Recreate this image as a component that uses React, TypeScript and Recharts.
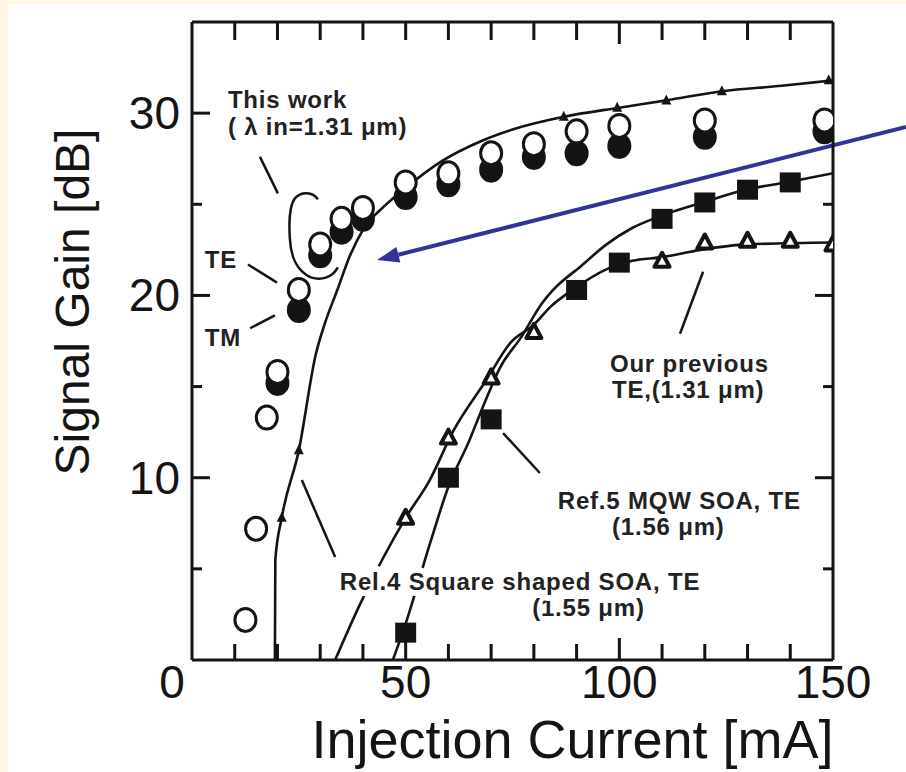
import React from 'react'
import { ComposedChart, Line, Scatter, XAxis, YAxis, ReferenceLine, ReferenceDot } from 'recharts'

// This work (λin = 1.31 µm): TE open circles, TM filled circles
const teCurrent = [12.5, 15, 17.5, 20, 25, 30, 35, 40, 50, 60, 70, 80, 90, 100, 120, 148]
const teGain = [2.2, 7.2, 13.3, 15.8, 20.3, 22.8, 24.2, 24.8, 26.2, 26.7, 27.8, 28.3, 29.0, 29.3, 29.6, 29.6]
const tmCurrent = [20, 25, 30, 35, 40, 50, 60, 70, 80, 90, 100, 120, 148]
const tmGain = [15.2, 19.2, 22.2, 23.5, 24.2, 25.4, 26.1, 26.9, 27.6, 27.8, 28.2, 28.7, 29.0]

// Rel.4 square shaped SOA: curve and small markers on it
const rel4Current = [19.4, 19.5, 21, 25, 29, 31, 34, 37, 40, 45, 50, 58, 68, 75, 87, 100, 111, 124, 138, 150]
const rel4Gain = [0, 5.5, 7.8, 11.5, 16.8, 18.4, 20.3, 22.2, 23.6, 24.9, 25.9, 27.3, 28.5, 29.1, 29.8, 30.3, 30.7, 31.2, 31.5, 31.8]
const rel4MarkCurrent = [21, 25, 87, 99.5, 111, 124, 149]
const rel4MarkGain = [7.8, 11.5, 29.8, 30.3, 30.7, 31.2, 31.8]

// Our previous TE (1.31 µm): triangles + curve
const prevCurrent = [50, 60, 70, 80, 110, 120, 130, 140, 150]
const prevGain = [7.8, 12.2, 15.5, 18.0, 21.9, 22.9, 23.0, 23.0, 22.8]
const prevFitCurrent = [33.5, 39, 44.5, 50, 55.7, 61, 69, 74.5, 80, 84, 89, 97.6, 103, 110, 119, 130, 150]
const prevFitGain = [0, 2.9, 5.5, 7.8, 9.9, 12.5, 15.4, 17.4, 18.4, 19.4, 20.3, 21.5, 21.9, 22.1, 22.5, 22.8, 22.9]

// Ref.5 MQW SOA, TE (1.56 µm): filled squares + curve
const ref5Current = [50, 60, 70, 90, 100, 110, 120, 130, 140]
const ref5Gain = [1.5, 10.0, 13.2, 20.3, 21.8, 24.2, 25.1, 25.8, 26.2]
const ref5FitCurrent = [47, 50, 55.7, 60, 65, 67.4, 69.7, 72, 77, 82, 84.5, 91, 97, 103, 109, 119.5, 129.5, 139, 150]
const ref5FitGain = [0, 2, 6.4, 9.5, 12.1, 13.5, 14.8, 16.0, 17.7, 19.6, 20.3, 21.6, 22.8, 23.7, 24.3, 25.1, 25.8, 26.2, 26.7]

const xTicks = [0, 10, 20, 30, 40, 50, 60, 70, 80, 90, 100, 110, 120, 130, 140, 150]
const xLabels = [0, 50, 100, 150]
const yTicks = [0, 5, 10, 15, 20, 25, 30, 35]
const yLabels = [10, 20, 30]

const X_MAX = 150
const Y_MAX = 35

const W = 906
const H = 772
const MARGIN = { top: 12, right: 53, bottom: 82, left: 132 }
const Y_AXIS_W = 60
const RIGHT_AXIS_W = 20
const X_AXIS_H = 30
const TOP_AXIS_H = 10
const PLOT_L = MARGIN.left + Y_AXIS_W
const PLOT_R = W - MARGIN.right - RIGHT_AXIS_W
const PLOT_T = MARGIN.top + TOP_AXIS_H
const PLOT_B = H - MARGIN.bottom - X_AXIS_H

const INK = '#141414'
const BLUE = '#30339a'
const FONT = '"Liberation Sans", Arial, Helvetica, sans-serif'
const TICK_W = 3

const pts = (xs: number[], ys: number[]) => xs.map((x, i) => ({ x, y: ys[i] }))

// annotation placement (data coordinates); halo notes are drawn first
const notes = [
  { x: 79.6, y: 2.4, text: '(1.55 μm)', halo: false },
  { x: 34.6, y: 3.85, text: 'Rel.4 Square shaped SOA, TE', halo: true },
  { x: 8.4, y: 30.3, text: 'This work', halo: false },
  { x: 8.4, y: 28.8, text: '( λ in=1.31 μm)', halo: false },
  { x: 3.0, y: 21.5, text: 'TE', halo: false },
  { x: 3.0, y: 17.2, text: 'TM', halo: false },
  { x: 97.8, y: 15.8, text: 'Our previous', halo: false },
  { x: 98.3, y: 14.4, text: 'TE,(1.31 μm)', halo: false },
  { x: 85.6, y: 8.3, text: 'Ref.5 MQW SOA, TE', halo: false },
  { x: 98.3, y: 6.85, text: '(1.56 μm)', halo: false },
]

const pointers = [
  [{ x: 15.9, y: 27.6 }, { x: 20.1, y: 25.6 }],
  [{ x: 13.1, y: 21.7 }, { x: 19.9, y: 20.7 }],
  [{ x: 13.6, y: 18.2 }, { x: 19.4, y: 18.9 }],
  [{ x: 114.2, y: 17.9 }, { x: 119.6, y: 21.3 }],
  [{ x: 72.8, y: 12.45 }, { x: 81.4, y: 10.26 }],
  [{ x: 25.7, y: 9.87 }, { x: 33.5, y: 5.65 }],
]

const arrow = [{ x: 167.1, y: 29.24 }, { x: 43.3, y: 21.94 }]

const OpenCircle = (p: any) => (
  <ellipse cx={p.cx} cy={p.cy} rx={10.5} ry={11.5} fill="#fff" stroke={INK} strokeWidth={3} />
)
const FilledCircle = (p: any) => (
  <ellipse cx={p.cx} cy={p.cy} rx={10.5} ry={11.5} fill={INK} stroke={INK} strokeWidth={3} />
)
const Square = (p: any) => <rect x={p.cx - 10.5} y={p.cy - 10} width={21} height={20} fill={INK} />
const Triangle = (p: any) => (
  <polygon
    points={`${p.cx},${p.cy - 8} ${p.cx - 7.5},${p.cy + 6} ${p.cx + 7.5},${p.cy + 6}`}
    fill="#fff"
    stroke={INK}
    strokeWidth={4}
    strokeLinejoin="round"
  />
)
const SmallMark = (p: any) => (
  <polygon points={`${p.cx},${p.cy - 6} ${p.cx - 5},${p.cy + 4} ${p.cx + 5},${p.cy + 4}`} fill={INK} />
)

const BottomTick = ({ x, y, payload }: any) => {
  const v = payload.value
  if (!xLabels.includes(v)) return <g />
  return (
    <text x={v === 0 ? x - 20 : x} y={y + 38} textAnchor="middle" fontSize={46} fontFamily={FONT} fill={INK}>
      {v}
    </text>
  )
}
const LeftTick = ({ x, y, payload }: any) => {
  const v = payload.value
  if (!yLabels.includes(v)) return <g />
  return (
    <text x={x - 12} y={y + 16} textAnchor="end" fontSize={46} fontFamily={FONT} fill={INK}>
      {v}
    </text>
  )
}

// frame tick positions
const innerX = xTicks.filter((v) => v > 0 && v < X_MAX)
const innerY = yTicks.filter((v) => v > 0 && v < Y_MAX)
const leftTickPts = innerY.map((v) => ({ x: 0, y: v, len: v % 10 === 0 ? 18 : 10 }))
const rightTickPts = innerY.map((v) => ({ x: X_MAX, y: v, len: v % 10 === 0 ? 18 : 10 }))
const RightwardTick = (p: any) => <rect x={p.cx} y={p.cy - TICK_W / 2} width={p.payload.len} height={TICK_W} fill={INK} />
const LeftwardTick = (p: any) => <rect x={p.cx - p.payload.len} y={p.cy - TICK_W / 2} width={p.payload.len} height={TICK_W} fill={INK} />

// top and bottom frame ticks, overlaid on the same linear x scale as the chart
const tickX = (v: number) => PLOT_L + ((PLOT_R - PLOT_L) * v) / X_MAX

const ArrowShape = (p: any) => {
  const { x1, y1, x2, y2 } = p
  const a = Math.atan2(y2 - y1, x2 - x1)
  const L = 22
  const w = 8
  const bx = x2 - L * Math.cos(a)
  const by = y2 - L * Math.sin(a)
  const nx = -Math.sin(a) * w
  const ny = Math.cos(a) * w
  return (
    <g>
      <line x1={x1} y1={y1} x2={bx} y2={by} stroke={BLUE} strokeWidth={4} />
      <polygon points={`${x2},${y2} ${bx + nx},${by + ny} ${bx - nx},${by - ny}`} fill={BLUE} />
    </g>
  )
}

const Loop = (p: any) => (
  <path
    transform={`translate(${p.cx},${p.cy})`}
    d="M19,-45 C14,-53 2,-53 -4,-46 C-10,-38 -10,-22 -9,-6 C-8,12 -3,26 12,33 C22,36 33,34 39,23"
    fill="none"
    stroke={INK}
    strokeWidth={2.5}
  />
)

const axisLine = { stroke: INK, strokeWidth: 3 }

export default function App() {
  return (
    <div style={{ position: 'absolute', left: 0, top: 0, width: W, height: H, background: '#fff7e4', overflow: 'hidden' }}>
      <div style={{ position: 'absolute', left: 8, top: 4, right: 0, bottom: 0, background: '#ffffff' }} />
      <div style={{ position: 'absolute', left: 0, top: 0 }}>
        <ComposedChart width={W} height={H} margin={MARGIN}>
          <XAxis
            dataKey="x"
            type="number"
            domain={[0, X_MAX]}
            ticks={xTicks}
            interval={0}
            allowDataOverflow
            height={X_AXIS_H}
            tickSize={0}
            tickMargin={0}
            tickLine={false}
            axisLine={axisLine}
            tick={<BottomTick />}
            label={(p: any) => {
              const vb = p.viewBox
              return (
                <text x={vb.x + vb.width / 2 + 60} y={vb.y + 98} textAnchor="middle" fontSize={54} fontFamily={FONT} fill={INK}>
                  Injection Current [mA]
                </text>
              )
            }}
          />
          <XAxis
            xAxisId="top"
            orientation="top"
            type="number"
            domain={[0, X_MAX]}
            allowDataOverflow
            height={TOP_AXIS_H}
            tickLine={false}
            axisLine={axisLine}
            tick={false}
          />
          <YAxis
            type="number"
            domain={[0, Y_MAX]}
            ticks={yTicks}
            interval={0}
            allowDataOverflow
            width={Y_AXIS_W}
            tickSize={0}
            tickMargin={0}
            tickLine={false}
            axisLine={axisLine}
            tick={<LeftTick />}
            label={(p: any) => {
              const vb = p.viewBox
              const cx = vb.x - 60
              const cy = 302
              return (
                <text
                  transform={`translate(${cx},${cy}) rotate(-90)`}
                  textAnchor="middle"
                  dominantBaseline="central"
                  fontSize={48}
                  fontFamily={FONT}
                  fill={INK}
                >
                  Signal Gain [dB]
                </text>
              )
            }}
          />
          <YAxis
            yAxisId="right"
            orientation="right"
            type="number"
            domain={[0, Y_MAX]}
            allowDataOverflow
            width={RIGHT_AXIS_W}
            tickLine={false}
            axisLine={axisLine}
            tick={false}
          />

          <Scatter data={leftTickPts} dataKey="y" shape={RightwardTick} isAnimationActive={false} />
          <Scatter data={rightTickPts} dataKey="y" shape={LeftwardTick} isAnimationActive={false} />

          <Line data={pts(rel4Current, rel4Gain)} dataKey="y" type="monotone" stroke={INK} strokeWidth={2.6} dot={false} isAnimationActive={false} />
          <Line data={pts(prevFitCurrent, prevFitGain)} dataKey="y" type="monotone" stroke={INK} strokeWidth={2.6} dot={false} isAnimationActive={false} />
          <Line data={pts(ref5FitCurrent, ref5FitGain)} dataKey="y" type="monotone" stroke={INK} strokeWidth={2.6} dot={false} isAnimationActive={false} />

          <Scatter data={pts(rel4MarkCurrent, rel4MarkGain)} dataKey="y" shape={SmallMark} isAnimationActive={false} />
          <Scatter data={pts(prevCurrent, prevGain)} dataKey="y" shape={Triangle} isAnimationActive={false} />
          <Scatter data={pts(ref5Current, ref5Gain)} dataKey="y" shape={Square} isAnimationActive={false} />
          <Scatter data={pts(tmCurrent, tmGain)} dataKey="y" shape={FilledCircle} isAnimationActive={false} />
          <Scatter data={pts(teCurrent, teGain)} dataKey="y" shape={OpenCircle} isAnimationActive={false} />

          {pointers.map((seg, i) => (
            <ReferenceLine key={'p' + i} segment={seg} stroke={INK} strokeWidth={2.5} ifOverflow="visible" />
          ))}
          <ReferenceDot x={25} y={22.8} ifOverflow="visible" shape={Loop} />
          <ReferenceLine segment={arrow} ifOverflow="visible" shape={ArrowShape} />

          {notes.map((n, i) => (
            <ReferenceDot
              key={'n' + i}
              x={n.x}
              y={n.y}
              ifOverflow="visible"
              shape={(p: any) => (
                <text
                  x={p.cx}
                  y={p.cy}
                  fontSize={24}
                  fontWeight="bold"
                  letterSpacing={0.8}
                  fontFamily={FONT}
                  fill="#222"
                  stroke={n.halo ? '#fff' : 'none'}
                  strokeWidth={n.halo ? 12 : 0}
                  strokeLinejoin="round"
                  paintOrder="stroke"
                >
                  {n.text}
                </text>
              )}
            />
          ))}
        </ComposedChart>
      </div>
      <svg width={W} height={H} style={{ position: 'absolute', left: 0, top: 0, pointerEvents: 'none' }}>
        {innerX.map((v) => (
          <rect
            key={'b' + v}
            x={tickX(v) - TICK_W / 2}
            y={PLOT_B - (v === 50 || v === 100 ? 22 : 16)}
            width={TICK_W}
            height={v === 50 || v === 100 ? 22 : 16}
            fill={INK}
          />
        ))}
        {innerX.map((v) => (
          <rect key={'t' + v} x={tickX(v) - TICK_W / 2} y={PLOT_T} width={TICK_W} height={v === 100 ? 22 : 18} fill={INK} />
        ))}
      </svg>
    </div>
  )
}
